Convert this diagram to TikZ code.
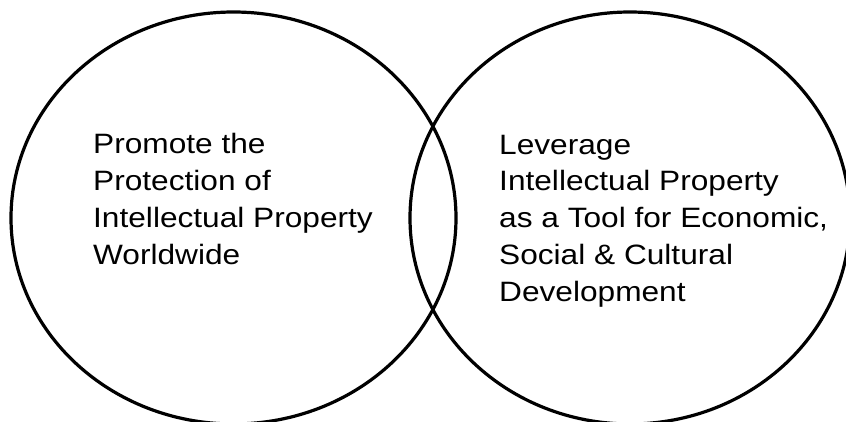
\documentclass[tikz,border=0pt]{standalone}
\usepackage{fontspec}
\setmainfont[FakeStretch=1.13]{Liberation Sans}
\usepackage{tikz}
\usetikzlibrary{shapes,positioning}
\tikzstyle{goal} = [ellipse, draw=black, line width=3.2pt, inner sep=0pt, minimum height=412pt]
\tikzstyle{goaltext} = [anchor=base west, align=left, inner sep=0pt, font=\fontsize{28}{36.7}\selectfont]

\begin{document}
\begin{tikzpicture}[x=1pt, y=1pt]
\clip (0,0) rectangle (846,421);
\node (protect) [goal, minimum width=445pt] at (233.5,203) {};
\node (leverage) [goal, minimum width=440pt] at (630,203) {};

\node (protecttext) [goaltext] at (93,157) {Promote the\\Protection of\\Intellectual Property\\Worldwide};
\node (leveragetext) [goaltext] at (499,120) {Leverage\\Intellectual Property\\as a Tool for Economic,\\Social \& Cultural\\Development};
\end{tikzpicture}
\end{document}
